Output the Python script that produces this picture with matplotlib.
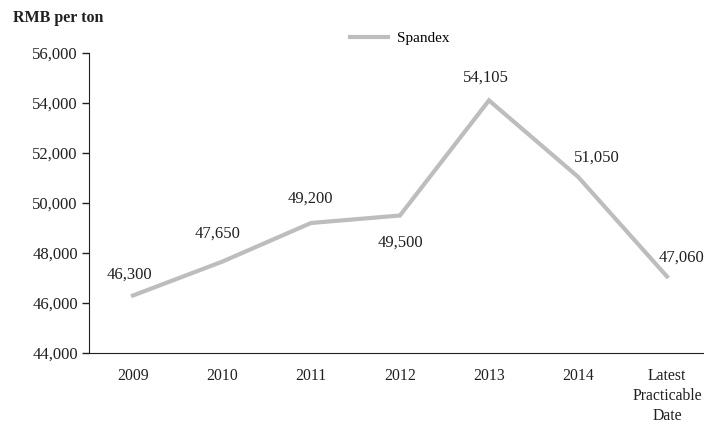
import matplotlib.pyplot as plt
from matplotlib.ticker import FuncFormatter

plt.rcParams["font.family"] = ["Liberation Serif", "DejaVu Serif"]

categories = ["2009", "2010", "2011", "2012", "2013", "2014", "Latest\nPracticable\nDate"]
spandex = [46300, 47650, 49200, 49500, 54105, 51050, 47060]
yticks = [44000, 46000, 48000, 50000, 52000, 54000, 56000]

# label offsets (points) for each value
offsets = [(-2.5, 15), (-3, 20.5), (-0.7, 17.3), (0, -19.5), (-2, 16.2), (13.7, 13.7), (10.5, 13.3)]

TXT = "#231f20"

fig = plt.figure(figsize=(7.04, 4.25), dpi=100)
ax = fig.add_axes([89 / 704, 1 - 353 / 425, 1 - 89 / 704, 300 / 425])

x = range(len(spandex))
ax.plot(x, spandex, color="#bdbdbd", linewidth=3, label="Spandex",
        solid_joinstyle="miter", clip_on=False)

for i, v in enumerate(spandex):
    ax.annotate(f"{v:,}", xy=(i, v), xytext=offsets[i], textcoords="offset points",
                ha="center", va="center", fontsize=12, color=TXT)

ax.set_xlim(-0.494, 6.416)
ax.set_ylim(44000, 56000)
ax.set_yticks(yticks)
ax.yaxis.set_major_formatter(FuncFormatter(lambda v, p: f"{int(v):,}"))
ax.set_xticks(list(x))
ax.set_xticklabels(categories, fontsize=11.3, color=TXT, linespacing=1.33)
ax.tick_params(axis="x", length=0, pad=11)
ax.tick_params(axis="y", length=5, width=1, labelsize=12, labelcolor=TXT, pad=3, color=TXT)

ax.spines["top"].set_visible(False)
ax.spines["right"].set_visible(False)
ax.spines["left"].set_color(TXT)
ax.spines["bottom"].set_color(TXT)

fig.text(13 / 704, 1 - 18 / 425, "RMB per ton", fontsize=11.5, fontweight="bold",
         color=TXT, va="center")

ax.legend(loc="center left", bbox_to_anchor=(350 / 704, 1 - 38 / 425),
          bbox_transform=fig.transFigure, frameon=False, fontsize=11,
          handlelength=2.5, handletextpad=0.55, borderpad=0, borderaxespad=0)

fig.savefig("out.png", dpi=100)
